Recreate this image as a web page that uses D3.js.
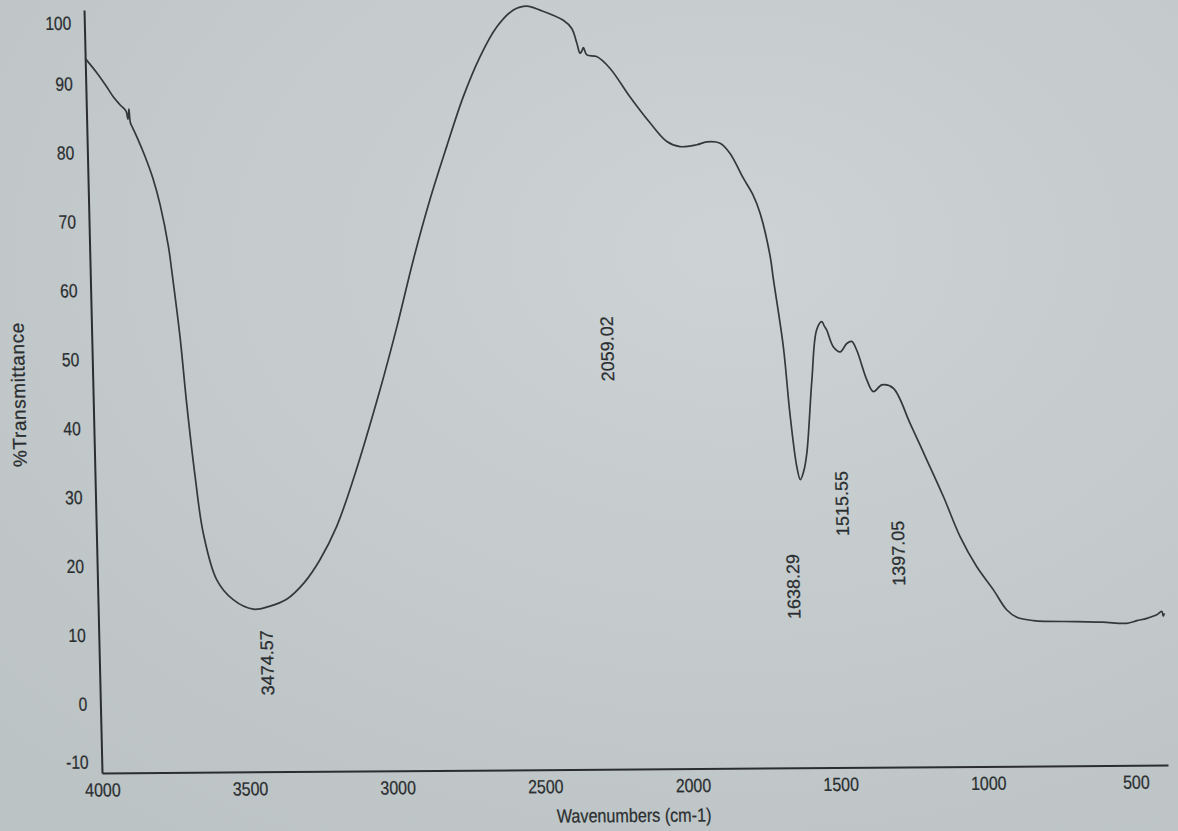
<!DOCTYPE html>
<html>
<head>
<meta charset="utf-8">
<script src="https://cdn.jsdelivr.net/npm/d3@7"></script>
<style>
html, body { margin: 0; padding: 0; }
body { width: 1178px; height: 831px; overflow: hidden; background: #c8cecf; }
svg { display: block; font-family: "Liberation Sans", Arial, sans-serif; }
</style>
</head>
<body>
<script>
// spectrum, wavenumber (cm-1) and %T
var wn = [4000,3960,3930,3908,3885,3866,3860,3856,3852,3845,3825,3805,3780,3758,3733,3724,3701,3684,3661,3638,
  3596,3542,3475,3420,3361,3300,3245,3186,3126,3028,2966,2905,2844,2783,2723,2663,2604,2546,2500,
  2456,2378,2350,2334,2324,2318,2312,2301,2268,2224,2158,2092,2037,1993,1936,1902,1857,1824,1781,1750,1727,
  1697,1687,1659,1642,1623,1612,1600,1588,1565,1545,1527,1518,1511,1490,1467,1444,1427,1411,1379,1358,
  1328,1290,1236,1182,1129,1076,1022,967,924,890,834,688,600,518,484,450,416,399,394,390];
var pct = [93.7,91.5,89.6,88.1,86.9,86.0,84.8,86.3,84.3,83.6,81.6,79.4,76.2,72.4,66.3,62.9,53.2,43.6,32.9,24.7,
  17.9,15.0,13.6,14.0,15.0,17.4,20.7,25.5,32.3,45.3,54.4,64.1,72.8,80.5,87.7,93.5,97.8,100.25,100.8,
  100.2,98.7,97.5,95.35,93.9,94.2,94.7,93.65,93.4,91.7,87.5,83.7,81.0,80.25,80.5,80.9,80.7,79.2,75.6,73.2,70.5,
  64.4,60.8,51.1,41.4,33.7,31.8,33.0,35.6,46.25,53.5,54.7,54.0,53.5,51.05,50.3,51.5,51.8,50.55,46.2,44.5,
  45.45,44.96,39.85,34.5,29.2,23.4,19.0,15.6,12.7,11.6,11.1,10.9,10.8,10.6,10.97,11.3,11.8,12.3,11.6,12.0];

var xTicks = [4000, 3500, 3000, 2500, 2000, 1500, 1000, 500];
var yTicks = [100, 90, 80, 70, 60, 50, 40, 30, 20, 10, 0, -10];

// peak labels and where the print puts them (wavenumber, %T of the label centre)
var peakText = ["3474.57", "2059.02", "1638.29", "1515.55", "1397.05"];
var peakWn   = [3433, 2256, 1645, 1474, 1287];
var peakPct  = [5.8, 51.0, 16.3, 28.3, 21.0];

var W = 1178, H = 831;
var x = d3.scaleLinear().domain([4000, 390]).range([102, 1168]);
var y = d3.scaleLinear().domain([-10, 100.7]).range([773, 10]);
var plain = function(d) { return String(d); };

var svg = d3.select("body").append("svg")
  .attr("width", W)
  .attr("height", H);

var grad = svg.append("defs").append("radialGradient")
  .attr("id", "paper").attr("cx", "62%").attr("cy", "30%").attr("r", "85%");
grad.append("stop").attr("offset", "0%").attr("stop-color", "#cdd3d4");
grad.append("stop").attr("offset", "100%").attr("stop-color", "#bcc3c5");
svg.append("rect").attr("width", W).attr("height", H).attr("fill", "url(#paper)");

// the printout is photographed slightly askew
var g = svg.append("g")
  .attr("transform", "translate(102,773) rotate(-0.43) skewX(0.92) translate(-102,-773)");

var ink = "#2a2e30";

// x axis
var gx = g.append("g")
  .attr("transform", "translate(0," + y.range()[0] + ")")
  .call(d3.axisBottom(x).tickValues(xTicks).tickFormat(plain).tickSize(0).tickSizeOuter(0).tickPadding(10))
  .attr("font-size", null).attr("font-family", null);
gx.select(".domain").attr("stroke", ink).attr("stroke-width", 2);
gx.selectAll("text")
  .attr("font-size", 19)
  .attr("fill", ink)
  .attr("stroke", ink).attr("stroke-width", 0.25)
  .attr("transform", "scale(0.84,1)");

// y axis
var gy = g.append("g")
  .attr("transform", "translate(" + x.range()[0] + ",0)")
  .call(d3.axisLeft(y).tickValues(yTicks).tickFormat(plain).tickSize(0).tickSizeOuter(0).tickPadding(16))
  .attr("font-size", null).attr("font-family", null);
gy.select(".domain").attr("stroke", ink).attr("stroke-width", 2);
gy.selectAll("text")
  .attr("font-size", 19)
  .attr("fill", ink)
  .attr("stroke", ink).attr("stroke-width", 0.25)
  .attr("y", function(d) { return Math.max(23, Math.min(762, y(d))) - y(d); })
  .attr("transform", "scale(0.82,1)");

// spectrum
var line = d3.line()
  .x(function(i) { return x(wn[i]); })
  .y(function(i) { return y(pct[i]); })
  .curve(d3.curveCatmullRom.alpha(0.5));

g.append("path")
  .datum(d3.range(wn.length))
  .attr("d", line)
  .attr("fill", "none")
  .attr("stroke", "#33383a")
  .attr("stroke-width", 1.7)
  .attr("stroke-linejoin", "round");

// peak labels
g.selectAll(".peak")
  .data(peakText)
  .join("text")
  .attr("class", "peak")
  .attr("transform", function(d, i) {
    return "translate(" + (x(peakWn[i]) + 6.5) + "," + y(peakPct[i]) + ") rotate(-90)";
  })
  .attr("text-anchor", "middle")
  .attr("font-size", 18)
  .attr("fill", ink)
  .attr("stroke", ink).attr("stroke-width", 0.25)
  .text(function(d) { return d; });

// axis titles
g.append("text")
  .attr("transform", "translate(633,826) scale(0.85,1)")
  .attr("text-anchor", "middle")
  .attr("font-size", 19)
  .attr("fill", ink)
  .attr("stroke", ink).attr("stroke-width", 0.25)
  .text("Wavenumbers (cm-1)");

g.append("text")
  .attr("transform", "translate(34,394) rotate(-90)")
  .attr("text-anchor", "middle")
  .attr("font-size", 19)
  .attr("letter-spacing", 0.6)
  .attr("fill", ink)
  .attr("stroke", ink).attr("stroke-width", 0.25)
  .text("%Transmittance");
</script>
</body>
</html>
